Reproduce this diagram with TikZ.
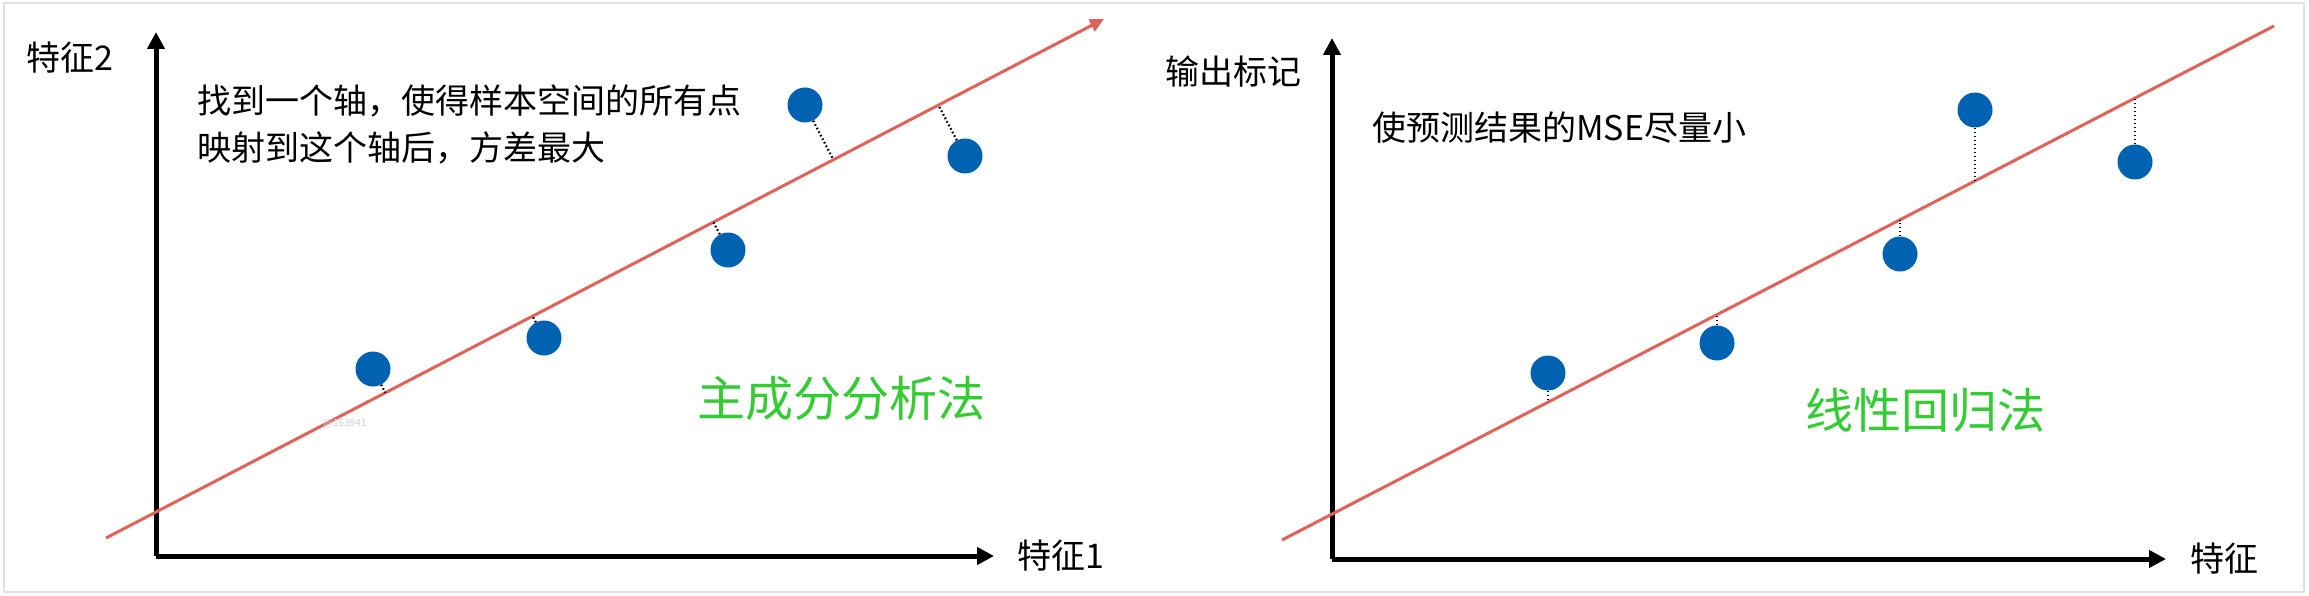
\documentclass[tikz,border=0pt]{standalone}
\usepackage{fontspec}
\setmainfont{Noto Sans CJK SC}
\usetikzlibrary{arrows.meta,calc}
\definecolor{dotblue}{HTML}{0062B0}
\definecolor{fitred}{HTML}{E2625A}
\definecolor{tagreen}{HTML}{33CC33}
\tikzset{
  axis/.style={black, line width=5pt, -{Triangle[length=17pt,width=17pt]}},
  fit/.style={fitred, line width=3pt},
  dot/.style={circle, fill=dotblue, minimum size=35pt, inner sep=0pt},
  proj/.style={black, line width=2.2pt, dash pattern=on 1.6pt off 2.4pt},
  lbl/.style={font=\fontsize{34}{47}\selectfont, inner sep=0pt},
  tag/.style={tagreen, font=\fontsize{48}{48}\selectfont, inner sep=0pt}
}
\begin{document}
\begin{tikzpicture}[x=1pt, y=-1pt]
    \useasboundingbox (0,0) rectangle (2309,596);
    \draw[black!12, line width=1.5pt] (4,3) rectangle (2304,592);

    % PCA
    \coordinate (o1) at (156,556);
    \coordinate (l1) at (106,538);
    \coordinate (l2) at (1104,19);
    \draw[axis] (o1) -- (156,32);
    \draw[axis] (o1) -- (994,556);
    \draw[fit, -{Triangle[length=14pt,width=13pt]}] (l1) -- (l2);

    \node[dot] (pa) at (373,369) {};
    \node[dot] (pb) at (544,338) {};
    \node[dot] (pc) at (728,250) {};
    \node[dot] (pd) at (805,105) {};
    \node[dot] (pe) at (965,156) {};
    \foreach \p in {pa,pb,pc,pd,pe}
      \draw[proj] (\p) -- ($(l1)!(\p)!(l2)$);

    \node[lbl] (y1) at (70,58) {特征2};
    \node[lbl] (x1) at (1061,556) {特征1};
    \node[lbl, anchor=west, align=left] (t1) at (197,124) {找到一个轴，使得样本空间的所有点\\映射到这个轴后，方差最大};
    \node[tag] (g1) at (841,398) {主成分分析法};
    \node[text=black!18, font=\fontsize{10}{10}\selectfont] (w1) at (345,424) {@163941};

    % linear regression
    \coordinate (o2) at (1332,559);
    \coordinate (r1) at (1282,540);
    \coordinate (r2) at (2274,26);
    \draw[axis] (o2) -- (1332,38);
    \draw[axis] (o2) -- (2166,559);
    \draw[fit] (r1) -- (r2);

    \node[dot] (qa) at (1548,373) {};
    \node[dot] (qb) at (1717,343) {};
    \node[dot] (qc) at (1900,254) {};
    \node[dot] (qd) at (1975,110) {};
    \node[dot] (qe) at (2135,162) {};
    \foreach \q in {qa,qb,qc,qd,qe}
      \draw[proj] let \p1=(\q), \p2=(r1), \p3=(r2),
        \n1={\y2+(\x1-\x2)/(\x3-\x2)*(\y3-\y2)} in
        (\q) -- (\x1,\n1);

    \node[lbl] (y2) at (1233,72) {输出标记};
    \node[lbl] (x2) at (2224,559) {特征};
    \node[lbl, anchor=west] (t2) at (1372,128) {使预测结果的MSE尽量小};
    \node[tag] (g2) at (1925,410) {线性回归法};
\end{tikzpicture}
\end{document}
